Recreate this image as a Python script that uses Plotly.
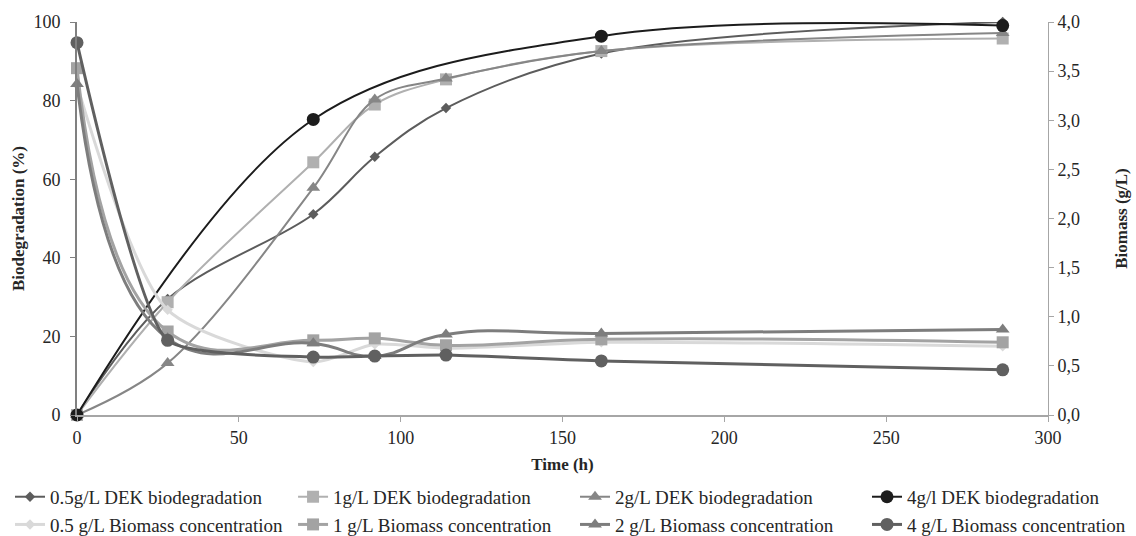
import plotly.graph_objects as go

# Sampling times (h)
time_all = [0, 28, 73, 92, 114, 162, 286]
time_4g = [0, 73, 162, 286]

# DEK biodegradation (%)
deg_05 = [0, 29.5, 51.1, 65.7, 78.1, 92.0, 100.0]
deg_1 = [0, 28.7, 64.3, 79.0, 85.4, 92.6, 95.8]
deg_2 = [0, 13.2, 57.8, 80.3, 85.6, 92.6, 97.2]
deg_4 = [0, 75.2, 96.4, 99.1]

# Biomass concentration (g/L)
bio_05 = [3.36, 1.07, 0.54, 0.72, 0.68, 0.74, 0.70]
bio_1 = [3.53, 0.85, 0.76, 0.78, 0.71, 0.77, 0.74]
bio_2 = [3.37, 0.78, 0.73, 0.60, 0.82, 0.83, 0.87]
bio_4 = [3.79, 0.76, 0.59, 0.60, 0.61, 0.55, 0.46]

FONT = "Liberation Serif"
TXT = "#262626"

fig = go.Figure()


def add(x, y, name, color, symbol, size, width, axis, legend, smooth=1.0):
    fig.add_trace(go.Scatter(
        x=x, y=y, name=name, mode="lines+markers", cliponaxis=False,
        line=dict(color=color, width=width, shape="spline", smoothing=smooth),
        marker=dict(color=color, symbol=symbol, size=size, line=dict(width=0)),
        yaxis=axis, legend=legend,
    ))


add(time_all, deg_05, "0.5g/L DEK biodegradation", "#5c5c5c", "diamond", 8, 2, "y", "legend")
add(time_all, deg_1, "1g/L DEK biodegradation", "#b0b0b0", "square", 12, 2, "y", "legend2")
add(time_all, deg_2, "2g/L DEK biodegradation", "#868686", "triangle-up", 12, 2, "y", "legend3")
add(time_4g, deg_4, "4g/l DEK biodegradation", "#1c1c1c", "circle", 13, 2, "y", "legend4")

add(time_all, bio_05, "0.5 g/L Biomass concentration", "#d9d9d9", "diamond", 8, 3, "y2", "legend", 0.7)
add(time_all, bio_1, "1 g/L Biomass concentration", "#a3a3a3", "square", 12, 3, "y2", "legend2", 1.3)
add(time_all, bio_2, "2 g/L Biomass concentration", "#7d7d7d", "triangle-up", 12, 3, "y2", "legend3", 1.3)
add(time_all, bio_4, "4 g/L Biomass concentration", "#606060", "circle", 13, 3, "y2", "legend4", 0.5)

tickfont = dict(family=FONT, size=18, color=TXT)
titlefont = dict(family=FONT, size=17, color=TXT, weight="bold")

fig.update_layout(
    width=1136, height=536,
    margin=dict(l=77, r=88, t=22, b=121, autoexpand=False),
    paper_bgcolor="white", plot_bgcolor="white",
    separators=",.",
    showlegend=True,
    xaxis=dict(
        range=[0, 300], dtick=50, tick0=0,
        showgrid=False, zeroline=False,
        showline=True, linecolor="#a6a6a6", linewidth=2,
        ticks="outside", ticklen=5, tickcolor="#a6a6a6",
        tickfont=tickfont,
        title=dict(text="Time (h)", font=titlefont, standoff=12),
    ),
    yaxis=dict(
        range=[0, 100], dtick=20, tick0=0,
        showgrid=False, zeroline=False,
        showline=True, linecolor="#808080", linewidth=2,
        ticks="outside", ticklen=5, tickcolor="#808080",
        ticklabelstandoff=6,
        tickfont=tickfont,
        title=dict(text="Biodegradation (%)", font=titlefont, standoff=4),
    ),
    yaxis2=dict(
        range=[0, 4], dtick=0.5, tick0=0, tickformat=".1f",
        overlaying="y", side="right",
        showgrid=False, zeroline=False,
        showline=True, linecolor="#a6a6a6", linewidth=1,
        ticks="outside", ticklen=5, tickcolor="#a6a6a6",
        tickfont=tickfont,
        title=dict(text="Biomass (g/L)", font=titlefont, standoff=36),
    ),
)

legend_style = dict(
    orientation="v", yanchor="top", xanchor="left",
    bgcolor="rgba(0,0,0,0)", borderwidth=0,
    font=dict(family=FONT, size=19, color=TXT),
    itemwidth=30, tracegroupgap=0,
)
y_leg = -0.16
fig.update_layout(
    legend=dict(x=-0.069, y=y_leg, **legend_style),
    legend2=dict(x=0.2225, y=y_leg, **legend_style),
    legend3=dict(x=0.5129, y=y_leg, **legend_style),
    legend4=dict(x=0.8136, y=y_leg, **legend_style),
)

fig.write_html("out.html")
